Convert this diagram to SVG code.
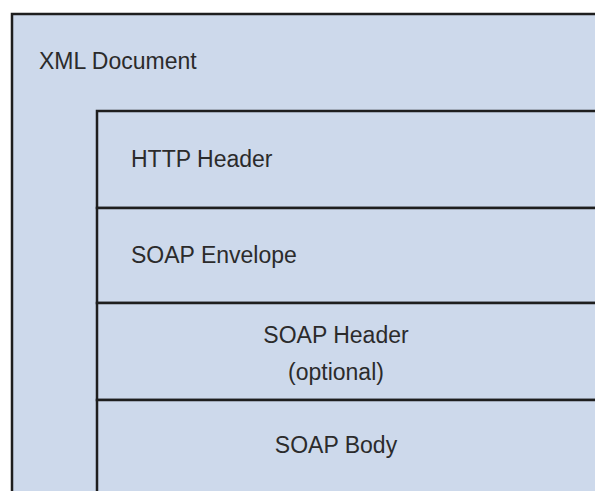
<svg xmlns="http://www.w3.org/2000/svg" width="595" height="491" viewBox="0 0 595 491">
<style>
.box{fill:#cdd9eb;stroke:#1e1e1e;stroke-width:2.5}
.t{font-family:"Liberation Sans",Arial,sans-serif;font-size:23px;fill:#2b2b2b}
.c{text-anchor:middle}
</style>
<rect width="595" height="491" fill="#ffffff"/>
<g id="xml-document">
<rect class="box" x="12" y="14" width="600" height="500"/>
<text class="t" x="39" y="69">XML Document</text>
</g>
<g id="http-header">
<rect class="box" x="97" y="111" width="520" height="97"/>
<text class="t" x="131" y="167">HTTP Header</text>
</g>
<g id="soap-envelope">
<rect class="box" x="97" y="208" width="520" height="95"/>
<text class="t" x="131" y="263">SOAP Envelope</text>
</g>
<g id="soap-header">
<rect class="box" x="97" y="303" width="520" height="97"/>
<text class="t c" x="336" y="343">SOAP Header</text>
<text class="t c" x="336" y="380">(optional)</text>
</g>
<g id="soap-body">
<rect class="box" x="97" y="400" width="520" height="120"/>
<text class="t c" x="336" y="453">SOAP Body</text>
</g>
<g id="connectors"></g>
</svg>
